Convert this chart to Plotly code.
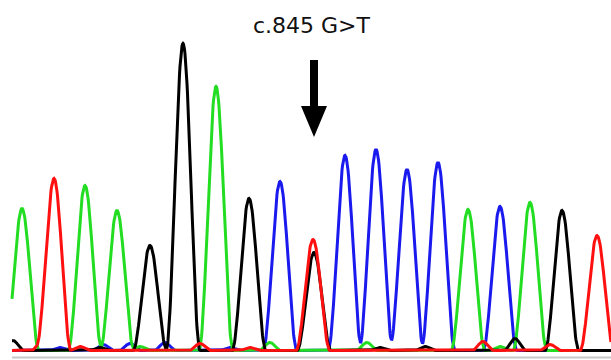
import numpy as np
import plotly.graph_objects as go

# Main base-call peaks: position (scan units), peak height (signal units)
G_pos = [22, 85, 117, 216, 468, 530]
G_h = [142, 165, 140, 264, 141, 148]
A_pos = [54, 313, 597]          # red trace
A_h = [172, 111, 115]
T_pos = [150, 183, 249, 314, 562]  # black trace
T_h = [105, 307, 152, 98, 140]
C_pos = [280, 345, 376, 407, 438, 500]  # blue trace
C_h = [169, 195, 201, 181, 188, 144]

# Minor background peaks
G_min_pos = [270, 367, 140, 500]
G_min_h = [8, 8, 4, 4]
A_min_pos = [42, 80, 200, 483, 550, 250]
A_min_h = [9, 4, 7, 9, 6, 3]
T_min_pos = [13, 425, 515, 380, 100]
T_min_h = [10, 4, 12, 3, 3]
C_min_pos = [103, 130, 165, 395, 60, 230]
C_min_h = [6, 7, 8, 4, 3, 3]

HALF_BASE = 17.0
MINOR_HALF_BASE = 11.0

x = np.arange(12, 611.5, 0.5)


def bell(d, w):
    inside = np.abs(d) < w
    return np.where(inside, np.cos(np.pi * d / (2 * w)) ** 2, 0.0)


def trace_signal(pos, h, mpos, mh):
    y = np.zeros_like(x, dtype=float)
    for p, a in zip(pos, h):
        y += a * bell(x - p, HALF_BASE)
    for p, a in zip(mpos, mh):
        y += a * bell(x - p, MINOR_HALF_BASE)
    return y


traces = [
    ("C", C_pos, C_h, C_min_pos, C_min_h, "#1a1aee"),
    ("G", G_pos, G_h, G_min_pos, G_min_h, "#22dd22"),
    ("T", T_pos, T_h, T_min_pos, T_min_h, "#000000"),
    ("A", A_pos, A_h, A_min_pos, A_min_h, "#ff1010"),
]

fig = go.Figure()
for name, pos, h, mpos, mh, col in traces:
    fig.add_trace(go.Scatter(
        x=x, y=trace_signal(pos, h, mpos, mh) + 1.5, mode="lines",
        line=dict(color=col, width=3), name=name,
        hoverinfo="skip", showlegend=False,
    ))

# bottom grey rule
fig.add_shape(type="line", xref="x", yref="y", x0=12, x1=611, y0=-5.5, y1=-5.5,
              line=dict(color="#c8c8c8", width=2))

# arrow marking mutation (pixel-space converted: y = 352 - pixel)
mx = 314
def py(p):
    return 352 - p
path = (f"M {mx-4},{py(60)} L {mx+4},{py(60)} L {mx+4},{py(106)} L {mx+13},{py(106)} "
        f"L {mx},{py(137)} L {mx-13},{py(106)} L {mx-4},{py(106)} Z")
fig.add_shape(type="path", path=path, xref="x", yref="y",
              fillcolor="#000000", line=dict(color="#000000", width=0))

fig.add_annotation(x=312, y=py(25.5), xref="x", yref="y", text="c.845 G&gt;T",
                   showarrow=False, font=dict(family="DejaVu Sans", size=22, color="#111111"))

fig.update_layout(
    width=611, height=360, margin=dict(l=0, r=0, t=0, b=0),
    paper_bgcolor="white", plot_bgcolor="white",
    xaxis=dict(range=[0, 611], visible=False, fixedrange=True),
    yaxis=dict(range=[-8, 352], visible=False, fixedrange=True),
)

fig.write_html("out.html", config={"displayModeBar": False},
               post_script="document.body.style.margin='0';")
